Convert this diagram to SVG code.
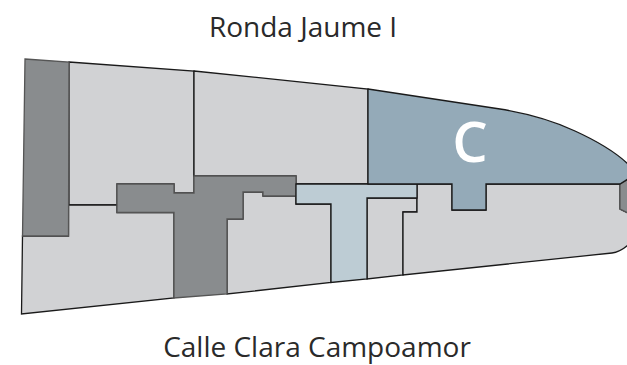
<svg xmlns="http://www.w3.org/2000/svg" width="627" height="365" viewBox="0 0 627 365">
<style>
.r{stroke:#1a1a1a;stroke-width:1.3;stroke-linejoin:miter}
.l{fill:#d1d2d4}.d{fill:#898c8e;stroke:#555}.b{fill:#94aab8}.t{fill:#bdccd4}
text{font-family:"Open Sans",sans-serif;fill:#2a2a2a;text-anchor:middle}
</style>
<rect width="627" height="365" fill="#fff"/>
<g id="labels">
<text x="303" y="37" font-size="28">Ronda Jaume I</text>
<text x="317" y="357" font-size="28">Calle Clara Campoamor</text>
</g>
<g id="rooms">
<path id="room-nw" class="r l" d="M69 62L194 71V193H174V184H117V205H69Z"/>
<path id="room-n" class="r l" d="M194 71L368 89V184H296V176H194Z"/>
<path id="room-sw" class="r l" d="M22.5 236H68.5V205H117V212.5H174V298L21.5 314Z"/>
<path id="room-s" class="r l" d="M227 219H243V192H263V196H296V204H331V282.5L227 294Z"/>
<path id="room-small" class="r l" d="M367 198H417V212H403V275L367 279Z"/>
<path id="room-e" class="r l" d="M403 212H417V184H452V210H486V184H620V209L628 213V245Q620 252 612 253L403 275Z"/>
<path id="core-w" class="r d" d="M25 59L69 62L68.5 236H22.5Z"/>
<path id="core-c" class="r d" d="M117 184H174V193H194V176H296V196H263V192H243V219H227V294L174 298V212.5H117Z"/>
<path id="core-e" class="r d" d="M620 184L628 179V213L620 209Z"/>
<path id="corridor" class="r t" d="M296 184H417V198H367V279L331 282.5V204H296Z"/>
<g id="zone-c">
<path class="r b" d="M368 89L500 109Q543 116 575 131Q610 147 628 164V179L620 184H486V210H452V184H368Z"/>
<text x="470" y="162" font-size="56" font-weight="600" style="fill:#fff">C</text>
</g>
</g>
</svg>
